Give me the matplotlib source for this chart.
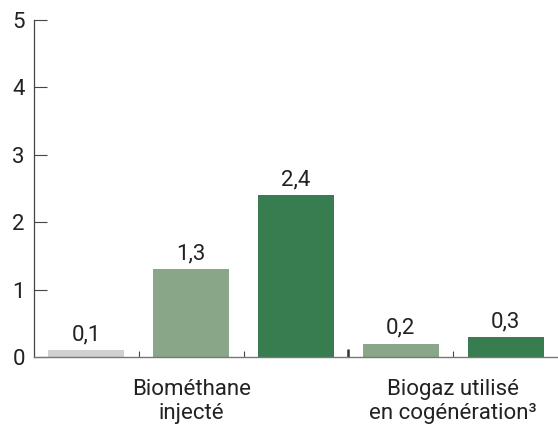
import matplotlib
matplotlib.use("Agg")
import matplotlib.pyplot as plt

values = [0.1, 1.3, 2.4, 0.2, 0.3]
value_labels = ["0,1", "1,3", "2,4", "0,2", "0,3"]
bar_colors = ["#d0d0d0", "#89a788", "#377d50", "#89a788", "#377d50"]
group_labels = ["Biométhane\ninjecté", "Biogaz utilisé\nen cogénération³"]
group_centers = [1, 3.5]
yticks = [0, 1, 2, 3, 4, 5]

text_color = "#222222"
plt.rcParams['font.family'] = ['Roboto', 'DejaVu Sans']
FS = 16

fig = plt.figure(figsize=(5.58, 4.25), dpi=100)
ax = fig.add_axes([34/558, 68/425, (558-34)/558, (357-20)/425])

x = list(range(len(values)))
bars = ax.bar(x, values, width=0.725, color=bar_colors, zorder=2)
for xi, v, lab in zip(x, values, value_labels):
    ax.annotate(lab, (xi, v), xytext=(0, 7), textcoords="offset points",
                ha="center", va="baseline", fontsize=FS, color=text_color)

ax.set_xlim(-0.5, 4.5)
ax.set_ylim(0, 5)
ax.set_yticks(yticks)
ax.set_yticklabels([str(t) for t in yticks])
ax.tick_params(axis="y", direction="in", length=9.5, width=0.8, color="#444444",
               labelsize=FS, labelcolor=text_color, pad=6.5)

ax.set_xticks([0.5, 1.5, 3.5])
ax.set_xticks([2.5], minor=True)
ax.set_xticklabels(["", "", ""])
ax.tick_params(axis="x", which="major", direction="in", length=4, width=0.8, color="#444444")
ax.tick_params(axis="x", which="minor", direction="in", length=5.5, width=1.8, color="#333333")

for gx, gl in zip(group_centers, group_labels):
    ax.annotate(gl, (gx, 0), xytext=(0, -15.5), textcoords="offset points",
                ha="center", va="top", fontsize=FS, color=text_color, linespacing=1.2)

for s in ["top", "right"]:
    ax.spines[s].set_visible(False)
ax.spines["left"].set_color("#444444")
ax.spines["bottom"].set_color("#777777")
ax.spines["left"].set_linewidth(0.9)
ax.spines["bottom"].set_linewidth(1.0)

fig.savefig("out.png", dpi=100)
